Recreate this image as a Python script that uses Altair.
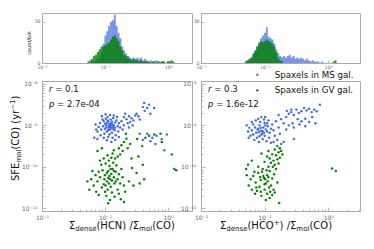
import altair as alt
import pandas as pd

FONT = "DejaVu Sans"
BLUE = "#4169e1"
GREEN = "#008000"
FRAME = "#aaaaaa"
LABEL = "#666666"
INK = "#111111"

MS = "Spaxels in MS gal."
GV = "Spaxels in GV gal."

# ---------------- histogram data (log10 bin edges, counts per bin) ----------------
EDGES = [-1.34, -1.31, -1.28, -1.25, -1.22, -1.19, -1.16, -1.13, -1.10, -1.07, -1.04, -1.01,
         -0.98, -0.95, -0.92, -0.89, -0.86, -0.83, -0.80, -0.77, -0.74, -0.71, -0.68, -0.65,
         -0.62, -0.59, -0.56, -0.53, -0.50, -0.47, -0.44, -0.41, -0.38, -0.35, -0.32, -0.29,
         -0.26, -0.23, -0.20, -0.17, -0.14, -0.11, -0.08, -0.05, -0.02, 0.01, 0.04, 0.07,
         0.10, 0.13, 0.16]
HCN_MS = [0, 0, 0, 0, 1, 1, 2, 3, 4, 8, 14, 20, 23, 27, 30, 31, 35, 27, 22, 18,
          12, 9, 7, 5, 4, 3, 4, 3, 4, 3, 4, 2, 3, 2, 1, 2, 1, 1, 2, 1,
          1, 1, 1, 0, 1, 0, 0, 0, 0, 0]
HCN_GV = [0, 0, 1, 2, 3, 5, 6, 8, 10, 12, 12, 13, 14, 15, 17, 19, 20, 18, 16, 12,
          9, 6, 5, 4, 3, 2, 3, 2, 2, 1, 2, 1, 1, 1, 1, 0, 1, 1, 0, 1,
          0, 1, 1, 0, 1, 1, 2, 1, 0, 0]
HCO_MS = [0, 1, 2, 3, 4, 6, 9, 12, 15, 18, 20, 22, 26, 19, 18, 17, 14, 10, 7, 5,
          4, 5, 4, 5, 6, 4, 5, 3, 4, 3, 4, 3, 2, 3, 2, 1, 2, 1, 1, 1,
          0, 1, 0, 0, 0, 0, 0, 0, 0, 0]
HCO_GV = [0, 1, 2, 3, 4, 7, 9, 12, 14, 16, 15, 16, 17, 16, 15, 14, 12, 8, 4, 2,
          1, 0, 0, 0, 0, 0, 0, 0, 0, 0, 0, 0, 0, 0, 0, 0, 0, 0, 0, 0,
          0, 0, 0, 0, 0, 0, 0, 1, 2, 0]

# ---------------- scatter data (log10 of x and of SFE) ----------------
HCN_MS_LX = [-0.94, -0.90, -0.98, -0.92, -0.86, -1.00, -0.95, -0.88, -1.03, -0.97,
             -0.91, -0.84, -1.06, -0.99, -0.89, -0.93, -1.01, -0.85, -0.80, -1.08,
             -0.96, -0.87, -1.04, -0.82, -0.78, -1.10, -1.12, -0.95, -0.88, -1.02,
             -0.79, -0.76, -0.83, -1.07, -0.92, -0.86, -0.99, -1.05, -0.81, -0.74,
             -1.15, -1.14, -1.17, -1.12, -0.97, -0.90, -0.84, -0.78, -0.72, -0.70,
             -0.94, -0.91, -0.97, -0.89, -0.93, -1.00, -0.87, -0.95, -1.02, -0.84,
             -0.92, -0.98, -0.90, -0.96, -0.88,
             -0.70, -0.66, -0.62, -0.58, -0.64, -0.60, -0.55, -0.52, -0.50, -0.47,
             -0.68, -0.45, -0.56, -0.62,
             -0.38, -0.33, -0.22, -0.37, -0.28, -0.40, -0.30,
             -0.33, -0.25, -0.18, -0.10, -0.20, -0.06, -0.40, -0.28, -0.45, -0.02]
HCN_MS_LY = [-9.01, -8.95, -9.05, -9.10, -9.00, -8.96, -8.90, -9.08, -9.02, -9.15,
             -8.86, -8.93, -9.10, -8.84, -9.18, -9.22, -9.20, -9.12, -9.02, -8.94,
             -8.80, -8.82, -8.86, -8.88, -8.95, -9.04, -9.15, -9.28, -9.30, -9.30,
             -9.15, -9.05, -9.24, -9.24, -8.75, -8.76, -8.73, -8.78, -8.80, -8.90,
             -8.98, -9.10, -9.30, -9.33, -9.36, -9.40, -9.35, -9.28, -9.10, -9.00,
             -9.06, -8.99, -8.94, -8.91, -8.96, -9.08, -9.04, -9.12, -8.90, -9.06,
             -9.03, -9.00, -9.05, -8.88, -8.98,
             -8.80, -8.85, -8.78, -8.83, -8.95, -8.92, -8.88, -8.76, -8.72, -8.78,
             -8.72, -8.86, -9.00, -9.05,
             -8.46, -8.58, -8.58, -8.65, -8.72, -8.56, -8.50,
             -9.20, -9.30, -9.25, -9.33, -9.45, -9.60, -9.35, -9.38, -9.20, -9.22]
HCN_GV_LX = [-0.90, -0.95, -0.86, -1.00, -0.92, -0.88, -1.04, -0.97, -0.83, -0.93,
             -1.08, -0.80, -0.99, -0.85, -1.02, -0.91, -0.78, -1.10, -0.96, -0.87,
             -1.06, -0.82, -0.94, -1.12, -0.76, -1.00, -0.89, -0.80, -1.15, -0.74,
             -1.05, -0.98, -0.85, -0.92, -0.78, -1.18, -1.20, -1.22, -1.25, -1.28,
             -0.72, -0.70, -0.68, -0.90, -0.84, -1.02, -0.96, -0.88, -0.80, -1.08,
             -0.93, -0.97, -0.89, -0.94, -1.01, -0.86, -0.91, -0.99, -0.83, -0.95,
             -1.14, -1.10, -0.75, -0.95, -0.70,
             -0.86, -0.78, -0.74, -0.70, -0.66, -0.72, -0.64, -0.60, -0.76, -0.67,
             -1.12, -1.05,
             -0.49, -0.41, -0.36, -0.30, -0.22, -0.12, -0.10, 0.06, 0.10, 0.13,
             -0.57, -0.50, -0.45, -0.38, -0.55, -0.62, -0.40, -0.47, -0.58]
HCN_GV_LY = [-10.17, -10.10, -10.25, -10.20, -10.30, -10.05, -10.08, -10.35, -10.12, -9.98,
             -10.25, -10.30, -9.92, -10.40, -10.42, -10.48, -10.18, -10.12, -10.55, -9.90,
             -9.95, -9.96, -9.85, -10.35, -10.40, -10.60, -10.62, -10.55, -10.20, -10.05,
             -10.50, -10.70, -10.72, -10.80, -10.65, -10.45, -10.10, -10.30, -10.55, -10.35,
             -10.25, -10.45, -10.60, -9.78, -9.80, -9.80, -9.72, -9.68, -9.75, -9.85,
             -10.22, -10.15, -10.33, -10.40, -10.30, -10.10, -10.05, -10.45, -10.35, -10.27,
             -10.60, -10.68, -10.78, -10.88, -10.85,
             -9.60, -9.55, -9.48, -9.40, -9.32, -9.62, -9.55, -9.45, -9.70, -9.20,
             -9.62, -9.55,
             -9.33, -9.50, -9.30, -9.25, -9.22, -9.20, -9.40, -9.70, -10.05, -10.08,
             -10.03, -10.15, -10.40, -10.30, -10.45, -10.35, -9.95, -9.75, -9.80]
HCO_MS_LX = [-1.06, -1.02, -1.10, -1.04, -0.98, -1.13, -1.08, -1.00, -1.15, -0.95,
             -1.20, -1.18, -1.07, -0.96, -1.12, -1.03, -0.92, -0.90, -1.24, -1.26,
             -1.28, -1.22, -1.14, -1.01, -0.94, -0.88, -0.86, -0.97, -1.09, -0.84,
             -0.80, -0.93, -1.05, -1.10, -0.99, -0.82, -1.16, -1.20, -0.78, -0.76,
             -1.06, -1.03, -1.09, -0.99, -1.11, -1.01, -1.05, -0.96, -1.08, -1.00,
             -0.90, -0.86, -0.74, -1.25, -1.18,
             -0.74, -0.70, -0.66, -0.62, -0.58, -0.54, -0.50, -0.46, -0.42, -0.38,
             -0.34, -0.30, -0.26, -0.22, -0.18, -0.13, -0.48, -0.42, -0.36, -0.30,
             -0.25, -0.20, -0.56, -0.62, -0.66, -0.54, -0.45, -0.36, -0.58, -0.65,
             -0.54, -0.70, -0.78]
HCO_MS_LY = [-9.13, -9.05, -9.08, -9.20, -9.10, -9.18, -9.00, -9.25, -9.05, -9.02,
             -9.12, -8.98, -8.92, -8.95, -9.30, -9.33, -9.18, -9.08, -9.06, -9.15,
             -9.00, -9.25, -8.88, -8.86, -8.88, -8.98, -9.12, -9.38, -9.40, -9.25,
             -9.35, -9.30, -8.80, -8.84, -8.80, -8.90, -9.35, -8.92, -9.05, -9.20,
             -9.06, -9.14, -9.16, -9.00, -9.10, -9.18, -9.22, -9.15, -9.26, -8.94,
             -9.42, -9.40, -9.45, -9.30, -9.22,
             -8.85, -8.95, -8.80, -8.72, -8.68, -8.75, -8.62, -8.70, -8.66, -8.58,
             -8.64, -8.60, -8.68, -8.62, -8.66, -8.50, -8.85, -8.90, -8.84, -8.92,
             -8.80, -8.95, -8.95, -9.00, -9.10, -9.05, -8.98, -9.02, -8.62, -8.65,
             -9.33, -9.40, -8.75]
HCO_GV_LX = [-0.80, -0.76, -0.84, -0.78, -0.88, -0.82, -0.74, -0.92, -0.86, -0.80,
             -0.96, -0.76, -0.90, -0.84, -0.78, -1.00, -0.72, -0.94, -1.05, -1.20,
             -1.01, -0.96, -1.06, -0.92, -1.10, -0.88, -1.03, -0.98, -1.14, -0.85,
             -1.18, -0.94, -1.08, -0.90, -1.22, -0.82, -1.00, -1.12, -0.86, -1.25,
             -0.96, -1.05, -0.92, -0.88, -1.16, -1.28, -1.20, -0.80, -0.84, -0.98,
             -1.04, -0.99, -1.02, -0.95, -1.07, -0.93, -1.10, -0.87, -1.13, -1.00,
             -0.97, -1.06, -0.91, -1.15, -0.94,
             -0.77, 0.06, 0.12, -1.29, -1.26]
HCO_GV_LY = [-9.50, -9.55, -9.58, -9.65, -9.70, -9.72, -9.62, -9.80, -9.85, -9.82,
             -9.75, -9.78, -9.90, -9.95, -9.92, -9.88, -9.70, -9.62, -9.68, -9.85,
             -10.27, -10.20, -10.32, -10.10, -10.15, -10.28, -10.05, -10.40, -10.38, -10.18,
             -10.22, -10.00, -10.48, -10.45, -10.30, -10.05, -10.55, -10.58, -10.55, -10.45,
             -10.65, -10.70, -10.75, -10.68, -10.12, -10.20, -10.55, -10.38, -10.62, -10.80,
             -10.12, -10.30, -10.22, -10.35, -10.25, -10.50, -10.00, -10.00, -10.50, -10.42,
             -10.08, -10.60, -10.60, -10.65, -10.25,
             -10.87, -10.04, -10.10, -10.05, -9.95]

# ---------------- helpers ----------------
ADV = {" ": 651, "(": 799, ")": 799, "+": 1716, "/": 690, "1": 1303, "C": 1430, "E": 1294,
       "F": 1178, "H": 1540, "N": 1532, "O": 1612, "S": 1300, "d": 1300, "e": 1260,
       "l": 569, "m": 1995, "n": 1298, "o": 1253, "r": 842, "s": 1067, "y": 1212,
       "Σ": 1294, "−": 1716, "c": 1126, "u": 1298, "t": 803, "b": 1300, "i": 569,
       "p": 1300}


def tw(s, fs):
    return sum(ADV.get(c, 1250) for c in s) / 2048.0 * fs


ONE = pd.DataFrame({"k": [0]})


def rich(parts, x, y, fs, angle=0, align="left"):
    layers = []
    off = 0.0
    for txt, kind, style in parts:
        size = fs * 0.7 if kind in ("sub", "sup") else fs
        dy = 0.24 * fs if kind == "sub" else (-0.40 * fs if kind == "sup" else 0)
        lead = len(txt) - len(txt.lstrip(" "))
        off += tw(" " * lead, size)
        body = txt.lstrip(" ")
        layers.append(
            alt.Chart(ONE).mark_text(text=body, align=align, baseline="alphabetic", font=FONT,
                                     fontSize=size, dx=off, dy=dy, angle=angle, color=INK,
                                     fontStyle=style)
            .encode(x=alt.value(x), y=alt.value(y)))
        off += tw(body, size)
    return layers


X_LAB = ("datum.value == 0.01 ? '10⁻²' : datum.value == 0.1 ? '10⁻¹' : "
         "datum.value == 1 ? '10⁰' : ''")
Y_LAB = ("datum.value < 3e-11 ? '10⁻¹¹' : datum.value < 3e-10 ? '10⁻¹⁰' : "
         "datum.value < 3e-9 ? '10⁻⁹' : '10⁻⁸'")


def major_axis(orient, values, fs, tick, pad, expr=None):
    kw = dict(orient=orient, values=values, labelFont=FONT, labelFontSize=fs,
              labelColor=LABEL, tickColor=FRAME, tickSize=tick, offset=-tick,
              labelPadding=pad, domain=False, grid=False, title=None,
              labelFlush=False, labelOverlap=False, tickWidth=0.8)
    if expr:
        kw["labelExpr"] = expr
    return alt.Axis(**kw)


def minor_axis(orient, values, tick):
    return alt.Axis(orient=orient, values=values, labels=False, tickColor=FRAME,
                    tickSize=tick, offset=-tick, domain=False, grid=False, title=None,
                    tickWidth=0.8)


YMIN, YMAX = 10 ** -11.065, 10 ** -7.93
CSCALE = alt.Scale(domain=[MS, GV], range=[BLUE, GREEN])
LEGEND = alt.Legend(orient="none", legendX=211, legendY=57.5, title=None,
                    labelFont=FONT, labelFontSize=8.7, labelColor=INK,
                    symbolType="circle", symbolSize=6, symbolStrokeWidth=0,
                    rowPadding=5.5, labelOffset=13, padding=0, offset=0)


def hist_panel(ms, gv, xmax, width, title):
    df = pd.DataFrame({"edge": [10 ** e for e in EDGES], "ms": ms + [0], "gv": gv + [0]})
    xs = alt.Scale(type="log", domain=[0.01, xmax], nice=False)
    ys = alt.Scale(domain=[0, 36.3], nice=False, zero=True)
    xax = major_axis("bottom", [0.01, 0.1, 1], 4.6, 3, 1.5, X_LAB)
    yax = major_axis("left", [0, 10, 20, 30], 4.6, 3, 2)
    blue = alt.Chart(df).mark_area(interpolate="step-after", color=BLUE, opacity=0.7).encode(
        x=alt.X("edge:Q", scale=xs, axis=xax), y=alt.Y("ms:Q", scale=ys, axis=yax))
    green = alt.Chart(df).mark_area(interpolate="step-after", color=GREEN, opacity=0.8).encode(
        x=alt.X("edge:Q", scale=xs), y=alt.Y("gv:Q", scale=ys))
    layers = [blue, green]
    if title:
        layers += rich([("count/bin", "n", "normal")], -11.5, 30, 5, angle=270, align="center")
    return alt.layer(*layers).properties(width=width, height=50)


def scatter_panel(mx, my, gx, gy, xmax, width, rtxt, ptxt, xtitle, xstart, ytitle):
    df = pd.DataFrame({
        "x": [10 ** v for v in mx] + [10 ** v for v in gx],
        "y": [10 ** v for v in my] + [10 ** v for v in gy],
        "group": [MS] * len(mx) + [GV] * len(gx)})
    xs = alt.Scale(type="log", domain=[0.01, xmax], nice=False)
    ys = alt.Scale(type="log", domain=[YMIN, YMAX], nice=False)
    xminor = [m * 10 ** e for e in (-2, -1, 0) for m in range(2, 10) if m * 10 ** e < xmax]
    yminor = [m * 10.0 ** e for e in (-11, -10, -9, -8) for m in range(2, 10)
              if YMIN < m * 10.0 ** e < YMAX]
    minor = alt.Chart(df).mark_point(opacity=0).encode(
        x=alt.X("x:Q", scale=xs, axis=minor_axis("bottom", xminor, 2)),
        y=alt.Y("y:Q", scale=ys, axis=minor_axis("left", yminor, 2)))
    pts = alt.Chart(df).mark_circle(size=6, opacity=1).encode(
        x=alt.X("x:Q", scale=xs, axis=major_axis("bottom", [0.01, 0.1, 1], 6, 4, 3, X_LAB)),
        y=alt.Y("y:Q", scale=ys, axis=major_axis("left", [1e-11, 1e-10, 1e-9, 1e-8], 6, 4, 5, Y_LAB)),
        color=alt.Color("group:N", scale=CSCALE, legend=LEGEND))
    layers = [minor, pts]
    layers += rich([("r", "n", "italic"), (" = " + rtxt, "n", "normal")], 7, 11, 8.5)
    layers += rich([("p", "n", "italic"), (" = " + ptxt, "n", "normal")], 7, 26, 8.5)
    layers += rich(xtitle, xstart, 148, 10)
    if ytitle:
        layers += rich([("SFE", "n", "normal"), ("mol", "sub", "normal"),
                        ("(CO) (yr", "n", "normal"), ("−1", "sup", "normal"),
                        (")", "n", "normal")], -23, 100, 10, angle=270)
    return alt.layer(*layers).resolve_axis(x="independent", y="independent").properties(
        width=width, height=130)


XT_HCN = [("Σ", "n", "normal"), ("dense", "sub", "normal"), ("(HCN) /Σ", "n", "normal"),
          ("mol", "sub", "normal"), ("(CO)", "n", "normal")]
XT_HCO = [("Σ", "n", "normal"), ("dense", "sub", "normal"), ("(HCO", "n", "normal"),
          ("+", "sup", "normal"), (") /Σ", "n", "normal"), ("mol", "sub", "normal"),
          ("(CO)", "n", "normal")]

hl = hist_panel(HCN_MS, HCN_GV, 10 ** 0.38, 150, True)
hr = hist_panel(HCO_MS, HCO_GV, 10 ** 0.5, 159, False)
sl = scatter_panel(HCN_MS_LX, HCN_MS_LY, HCN_GV_LX, HCN_GV_LY, 10 ** 0.38, 150,
                   "0.1", "2.7e-04", XT_HCN, 27, True)
sr = scatter_panel(HCO_MS_LX, HCO_MS_LY, HCO_GV_LX, HCO_GV_LY, 10 ** 0.5, 159,
                   "0.3", "1.6e-12", XT_HCO, 19, False)

chart = alt.concat(hl, hr, sl, sr, columns=2, spacing={"row": 18, "column": 9},
                   bounds="flush").properties(
    padding={"left": 0, "top": 4, "right": 0, "bottom": 0}
).configure_view(stroke=FRAME, strokeWidth=1).configure_text(font=FONT)

chart.save("out.html", embed_options={"renderer": "svg", "actions": False})
